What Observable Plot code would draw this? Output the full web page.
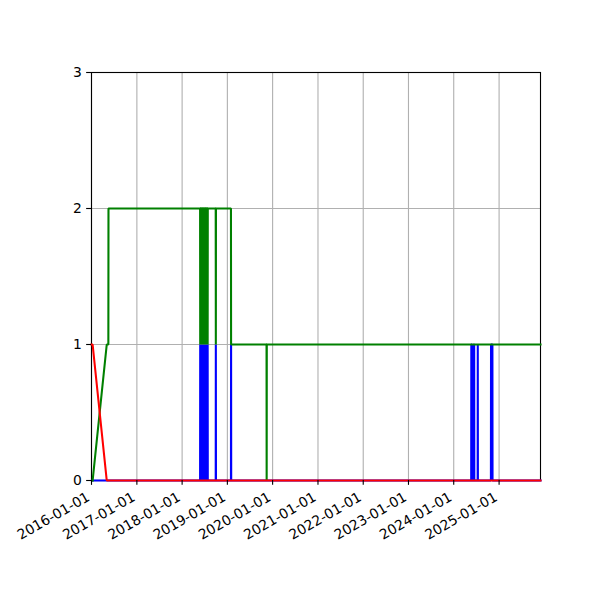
<!DOCTYPE html>
<html>
<head>
<meta charset="utf-8">
<script src="https://cdn.jsdelivr.net/npm/d3@7"></script>
<script src="https://cdn.jsdelivr.net/npm/@observablehq/plot@0.6"></script>
<style>
  html, body { margin: 0; padding: 0; background: white; }
  #chart svg { display: block; }
</style>
</head>
<body>
<div id="chart"></div>
<script>
// ---- data ----
const xTickLabels = ["2016-01-01","2017-01-01","2018-01-01","2019-01-01","2020-01-01",
                     "2021-01-01","2022-01-01","2023-01-01","2024-01-01","2025-01-01"];
const yTicks = [0, 1, 2, 3];
const xDomain = ["2016-01-01", "2025-12-01"];

const redDates  = ["2016-01-01","2016-01-10","2016-05-03","2025-12-01"];
const redValues = [1, 1, 0, 0];

const greenDates = [
  "2016-01-10","2016-05-03","2016-05-16","2016-05-17",
  "2018-05-26","2018-05-27","2018-05-28",
  "2018-05-31","2018-06-01","2018-06-02",
  "2018-06-05","2018-06-06","2018-06-07",
  "2018-06-10","2018-06-11","2018-06-12",
  "2018-06-15","2018-06-16","2018-06-17",
  "2018-06-20","2018-06-21","2018-06-22",
  "2018-06-25","2018-06-26","2018-06-27",
  "2018-06-30","2018-07-01","2018-07-02",
  "2018-07-05","2018-07-06","2018-07-07",
  "2018-07-10","2018-07-11","2018-07-12",
  "2018-07-15","2018-07-16","2018-07-17",
  "2018-07-20","2018-07-21","2018-07-22",
  "2018-07-25","2018-07-26","2018-07-27",
  "2018-09-29","2018-09-30","2018-10-01",
  "2019-01-30","2019-01-31",
  "2019-11-13","2019-11-14","2019-11-15",
  "2025-12-01"];
const greenValues = [
  0, 1, 1, 2,
  2, 1, 2,
  2, 1, 2,
  2, 1, 2,
  2, 1, 2,
  2, 1, 2,
  2, 1, 2,
  2, 1, 2,
  2, 1, 2,
  2, 1, 2,
  2, 1, 2,
  2, 1, 2,
  2, 1, 2,
  2, 1, 2,
  2, 1, 2,
  2, 1,
  1, 0, 1,
  1];

const blueDates = [
  "2016-01-10",
  "2018-05-26","2018-05-27","2018-05-28",
  "2018-05-31","2018-06-01","2018-06-02",
  "2018-06-05","2018-06-06","2018-06-07",
  "2018-06-10","2018-06-11","2018-06-12",
  "2018-06-15","2018-06-16","2018-06-17",
  "2018-06-20","2018-06-21","2018-06-22",
  "2018-06-25","2018-06-26","2018-06-27",
  "2018-06-30","2018-07-01","2018-07-02",
  "2018-07-05","2018-07-06","2018-07-07",
  "2018-07-10","2018-07-11","2018-07-12",
  "2018-07-15","2018-07-16","2018-07-17",
  "2018-07-20","2018-07-21","2018-07-22",
  "2018-07-25","2018-07-26","2018-07-27",
  "2018-09-29","2018-09-30","2018-10-01",
  "2019-01-30","2019-01-31","2019-02-01",
  "2024-05-21","2024-05-22","2024-05-26","2024-05-27",
  "2024-06-10","2024-06-11","2024-06-14","2024-06-15",
  "2024-07-12","2024-07-13","2024-07-14",
  "2024-10-27","2024-10-28","2024-11-08","2024-11-09",
  "2025-12-01"];
const blueValues = [
  0,
  0, 1, 0,
  0, 1, 0,
  0, 1, 0,
  0, 1, 0,
  0, 1, 0,
  0, 1, 0,
  0, 1, 0,
  0, 1, 0,
  0, 1, 0,
  0, 1, 0,
  0, 1, 0,
  0, 1, 0,
  0, 1, 0,
  0, 1, 0,
  0, 1, 0,
  0, 1, 1, 0,
  0, 1, 1, 0,
  0, 1, 0,
  0, 1, 1, 0,
  0];

// ---- build tables ----
const toRows = (dates, values) => dates.map((d, i) => ({date: new Date(d + "T00:00:00Z"), value: values[i]}));
const red = toRows(redDates, redValues);
const green = toRows(greenDates, greenValues);
const blue = toRows(blueDates, blueValues);
const xTicks = xTickLabels.map(d => new Date(d + "T00:00:00Z"));

const LW = 1.5 * 100 / 72;   // 1.5pt line
const AW = 0.8 * 100 / 72;   // 0.8pt axes / grid
const TL = 3.5 * 100 / 72;   // tick length

const chart = Plot.plot({
  width: 600,
  height: 600,
  marginLeft: 91,
  marginRight: 60,
  marginTop: 72,
  marginBottom: 120,
  style: {fontFamily: "DejaVu Sans", fontSize: "13.9px", color: "black", background: "white", overflow: "visible"},
  x: {type: "utc", domain: xDomain.map(d => new Date(d + "T00:00:00Z"))},
  y: {domain: [0, 3]},
  marks: [
    Plot.gridX(xTicks, {stroke: "#b0b0b0", strokeOpacity: 1, strokeWidth: AW}),
    Plot.gridY([1, 2], {stroke: "#b0b0b0", strokeOpacity: 1, strokeWidth: AW}),
    Plot.frame({stroke: "black", strokeWidth: AW}),
    Plot.line(blue, {x: "date", y: "value", stroke: "#0000ff", strokeWidth: LW, strokeLinecap: "square", strokeLinejoin: "miter"}),
    Plot.line(green, {x: "date", y: "value", stroke: "#008000", strokeWidth: LW, strokeLinecap: "square", strokeLinejoin: "miter"}),
    Plot.line(red, {x: "date", y: "value", stroke: "#ff0000", strokeWidth: LW, strokeLinecap: "square", strokeLinejoin: "miter"}),
    Plot.axisY(yTicks, {tickSize: TL, tickPadding: TL, strokeWidth: AW, label: null, tickFormat: d => String(d)}),
    // tick marks only
    Plot.axisX(xTicks, {tickSize: TL, strokeWidth: AW, label: null, tickFormat: () => ""}),
    // rotated tick labels
    Plot.axisX(xTicks, {tickSize: 0, tickPadding: TL + 10.5, tickRotate: -30, label: null,
                        dx: -3, tickFormat: d => d3.utcFormat("%Y-%m-%d")(d)})
  ]
});
document.getElementById("chart").appendChild(chart);
</script>
</body>
</html>
